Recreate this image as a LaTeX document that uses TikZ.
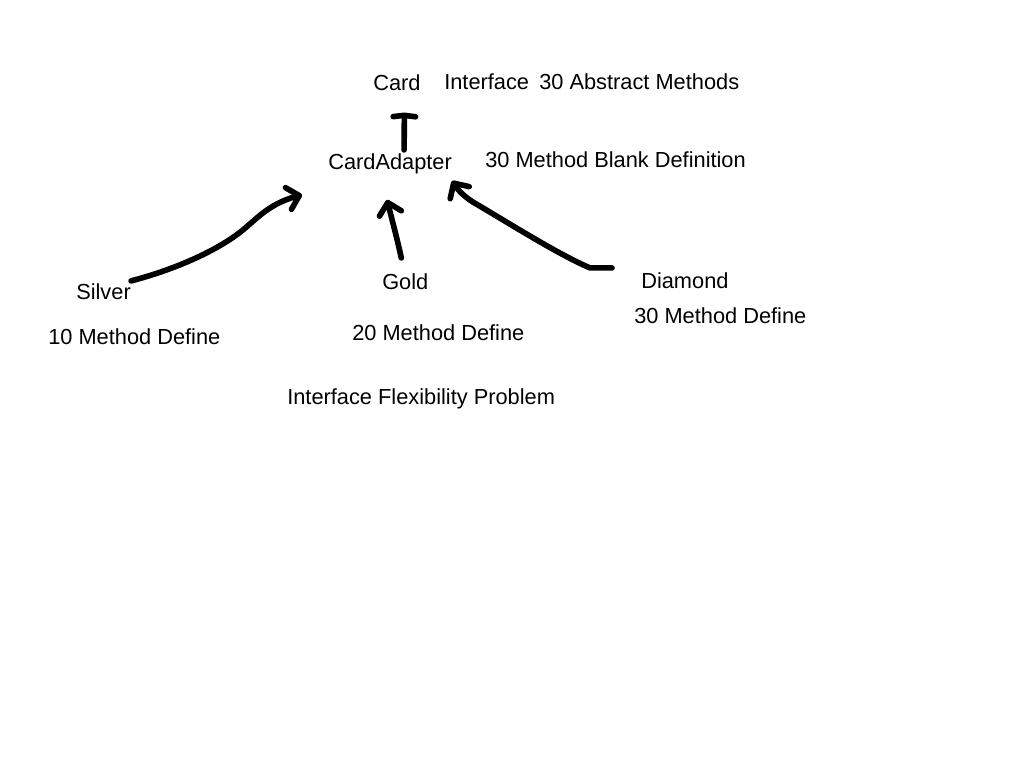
\documentclass[tikz,border=0pt]{standalone}
\usepackage{fontspec}
\setmainfont{Liberation Sans}
\usetikzlibrary{arrows.meta,calc}
\tikzset{
  lbl/.style={anchor=base west,inner sep=0pt,font=\fontsize{15.5pt}{18pt}\selectfont},
  hand/.style={line width=4pt,line cap=round,line join=round,
    -{Straight Barb[length=8pt,width=16pt,round]}},
  handT/.style={line width=4pt,line cap=round,line join=round,
    -{Straight Barb[length=1pt,width=16pt,round]}}
}
\begin{document}
\begin{tikzpicture}[x=0.025cm,y=-0.025cm]
\fill[white] (0,0) rectangle (1024,768);
% top of the hierarchy
\node[lbl] (card) at (373,91) {Card};
\node[lbl] (iface) at (444,90) {Interface};
\node[lbl] (abstract) at (539,90) {30 Abstract Methods};
\node[lbl] (adapter) at (328,170) {CardAdapter};
\node[lbl] (blank) at (485,167) {30 Method Blank Definition};
% the three cards
\node[lbl] (silver) at (76,299) {Silver};
\node[lbl] (silverdef) at (48,344) {10 Method Define};
\node[lbl] (gold) at (382,289) {Gold};
\node[lbl] (golddef) at (352,340) {20 Method Define};
\node[lbl] (diamond) at (641,288) {Diamond};
\node[lbl] (diamonddef) at (634,323) {30 Method Define};
\node[lbl] (problem) at (287,404) {Interface Flexibility Problem};
% arrows
\draw[handT] ($(adapter.north)+(14,-4)$) -- ($(card.south)+(7.5,21)$);
\draw[hand] ($(silver.north east)+(0,-2)$) .. controls (165,272) and (205,257) .. (235,236)
  .. controls (255,222) and (265,205) .. ($(adapter.south west)+(-26,20)$);
\draw[hand] ($(gold.north)+(-4,-15)$) .. controls (397,238) and (392,220) .. ($(adapter.south)+(-3,25)$);
\draw[hand] ($(diamond.north west)+(-29,-4)$) -- +(-22,0) .. controls (560,255) and (520,230) .. (478,205)
  .. controls (465,198) and (458,190) .. ($(adapter.south east)+(0,6)$);
\end{tikzpicture}
\end{document}
